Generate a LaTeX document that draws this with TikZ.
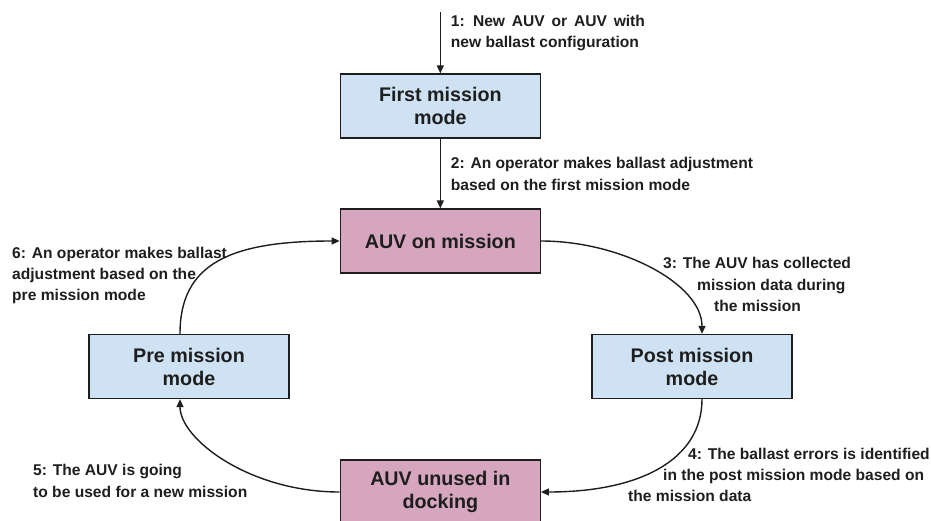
\documentclass[tikz,border=0pt]{standalone}
\usepackage{fontspec}
\setmainfont{Liberation Sans}
\usetikzlibrary{arrows.meta}
\definecolor{boxblue}{HTML}{CFE2F3}
\definecolor{boxpink}{HTML}{D5A6BD}
\definecolor{ink}{HTML}{1E1E1E}
\tikzset{
  modebox/.style={draw=ink, line width=1.3pt, minimum width=200pt, minimum height=64pt,
    inner sep=0pt, align=center, text=ink,
    font=\fontsize{19.7}{23}\selectfont\bfseries},
  bluebox/.style={modebox, fill=boxblue},
  pinkbox/.style={modebox, fill=boxpink},
  lbl/.style={anchor=north west, inner sep=0pt, align=left, text=ink,
    font=\fontsize{15.6}{21.2}\selectfont\bfseries},
  arr/.style={draw=ink, line width=1.4pt, -{Triangle[length=8pt,width=7pt]}},
}
\begin{document}
\begin{tikzpicture}[x=1pt,y=-1pt]
\useasboundingbox (0,0) rectangle (931,521);
\begin{scope}
\clip (0,0) rectangle (931,521);
\node[bluebox] (first) at (440.3,106) {First mission\\mode};
\node[pinkbox] (mission) at (440.3,241) {AUV on mission};
\node[bluebox] (pre) at (189,366.5) {Pre mission\\mode};
\node[bluebox] (post) at (692,366.5) {Post mission\\mode};
\node[pinkbox] (dock) at (440.3,492) {AUV unused in\\docking};
\end{scope}
\coordinate (start) at (440.3,12);

\draw[arr] (start) -- (first.north);
\draw[arr] (first.south) -- (mission.north);
\draw[arr] (mission.east) .. controls +(80,0) and +(0,-50) .. ([xshift=10pt]post.north);
\draw[arr] ([xshift=10pt]post.south) .. controls +(0,60) and +(100,0) .. (dock.east);
\draw[arr] (dock.west) .. controls +(-90,0) and +(0,40) .. ([xshift=-9pt]pre.south);
\draw[arr] ([xshift=-9pt]pre.north) .. controls +(0,-70) and +(-110,0) .. (mission.west);

\node[lbl] (l1) at (450.7,15) {\spaceskip=6.8pt plus 1pt 1: New AUV or AUV with\\new ballast configuration};
\node[lbl] (l2) at (450.7,157.3) {2: An operator makes ballast adjustment\\based on the first mission mode};
\node[lbl] (l3) at (663,257.3) {3: The AUV has collected\\\hspace*{34pt}mission data during\\\hspace*{51pt}the mission};
\node[lbl] (l4) at (628,447.7) {\hspace*{60pt}4: The ballast errors is identified\\\hspace*{35pt}in the post mission mode based on\\the mission data};
\node[lbl] (l5) at (33,464.3) {5: The AUV is going\\to be used for a new mission};
\node[lbl] (l6) at (12,246.7) {6: An operator makes ballast\\adjustment based on the\\pre mission mode};
\end{tikzpicture}
\end{document}
